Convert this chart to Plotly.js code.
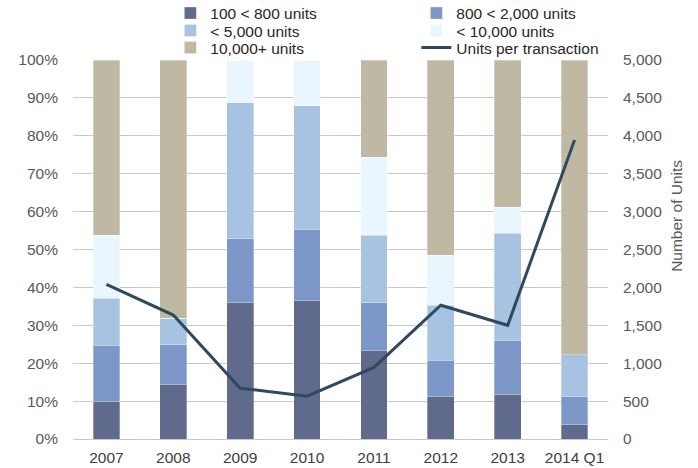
<!DOCTYPE html>
<html>
<head>
<meta charset="utf-8">
<script src="https://cdn.plot.ly/plotly-3.0.1.min.js"></script>
<style>html,body{margin:0;padding:0;background:#fff;}#chart{width:698px;height:468px;}</style>
</head>
<body>
<div id="chart"></div>
<script>
const categories = ["2007","2008","2009","2010","2011","2012","2013","2014 Q1"];
const share100to800 = [10.0, 14.4, 36.1, 36.5, 23.3, 11.3, 11.8, 3.9];
const share800to2000 = [14.7, 10.5, 16.7, 18.9, 12.7, 9.5, 14.2, 7.2];
const shareUnder5000 = [12.4, 6.9, 35.9, 32.5, 17.7, 14.5, 28.3, 11.1];
const shareUnder10000 = [16.7, 0.0, 11.3, 12.1, 20.6, 13.2, 6.9, 0.0];
const share10000plus = [46.2, 68.2, 0.0, 0.0, 25.7, 51.5, 38.8, 77.8];
const unitsPerTransaction = [2040, 1635, 670, 565, 945, 1765, 1500, 3945];

const seriesNames = ["100 < 800 units","800 < 2,000 units","< 5,000 units","< 10,000 units","10,000+ units"];
const seriesValues = [share100to800, share800to2000, shareUnder5000, shareUnder10000, share10000plus];
const seriesColors = ["#5f6a8c","#7d97c9","#a8c3e1","#eaf6fd","#bfb8a2"];
const legendRows = ["legend","legend","legend2","legend2","legend3","legend3"];

const FONT = "Liberation Sans, Arial, Helvetica, sans-serif";

const traces = seriesNames.map((name, i) => ({
  type: "bar",
  name: name,
  legend: legendRows[i],
  x: categories,
  y: seriesValues[i],
  marker: {color: seriesColors[i], line: {color: "rgba(255,255,255,0.6)", width: 0.5}},
  hoverinfo: "x+y+name"
}));
traces.push({
  type: "scatter",
  mode: "lines",
  name: "Units per transaction",
  legend: legendRows[5],
  x: categories,
  y: unitsPerTransaction,
  yaxis: "y2",
  line: {color: "#2e4a5e", width: 3}
});

const tickFont = {family: FONT, size: 15.5, color: "#595959"};

function legendRow(y) {
  return {
    orientation: "h",
    x: 0.182, xanchor: "left",
    y: y, yanchor: "middle",
    entrywidth: 201,
    traceorder: "normal",
    font: {family: FONT, size: 15.5, color: "#262626"},
    bgcolor: "rgba(0,0,0,0)",
    borderwidth: 0
  };
}

const layout = {
  width: 698,
  height: 468,
  margin: {l: 73, r: 90, t: 60, b: 29, autoexpand: false},
  paper_bgcolor: "#fff",
  plot_bgcolor: "#fff",
  barmode: "stack",
  bargap: 0.6,
  font: {family: FONT},
  showlegend: true,
  legend: legendRow(1.1227),
  legend2: legendRow(1.0765),
  legend3: legendRow(1.0316),
  xaxis: {
    type: "category",
    tickfont: {family: FONT, size: 15.5, color: "#404040"},
    showgrid: false,
    showline: false,
    zeroline: false,
    ticks: "",
    ticklabelstandoff: 7
  },
  yaxis: {
    range: [0, 100],
    dtick: 10,
    ticksuffix: "%",
    tickfont: tickFont,
    showgrid: true,
    gridcolor: "#c9c9c9",
    gridwidth: 1,
    zeroline: true,
    zerolinecolor: "#c9c9c9",
    zerolinewidth: 1,
    showline: false,
    ticks: "",
    ticklabelstandoff: 14
  },
  yaxis2: {
    overlaying: "y",
    side: "right",
    range: [0, 5000],
    dtick: 500,
    tickformat: ",",
    tickfont: tickFont,
    showgrid: false,
    zeroline: false,
    showline: false,
    ticks: "",
    ticklabelstandoff: 14
  },
  annotations: [{
    text: "Number of Units",
    xref: "paper", yref: "paper",
    x: 1.128, y: 0.59,
    xanchor: "center", yanchor: "middle",
    textangle: -90,
    showarrow: false,
    font: {family: FONT, size: 15.5, color: "#595959"}
  }]
};

Plotly.newPlot("chart", traces, layout, {displayModeBar: false, staticPlot: true});
</script>
</body>
</html>
